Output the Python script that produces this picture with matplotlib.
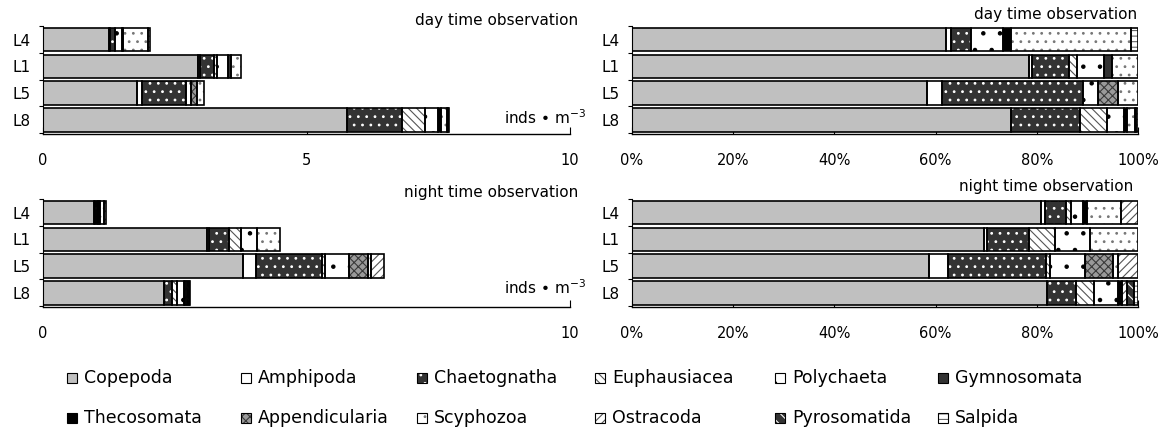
import numpy as np
import matplotlib
matplotlib.use("Agg")
import matplotlib.pyplot as plt
from matplotlib.patches import Rectangle

plt.rcParams['font.family'] = ['DejaVu Sans']
plt.rcParams['hatch.linewidth'] = 0.8

# ---------------- data ----------------
stations = ['L4', 'L1', 'L5', 'L8']
taxa = ['Copepoda', 'Amphipoda', 'Chaetognatha', 'Euphausiacea', 'Polychaeta',
        'Gymnosomata', 'Thecosomata', 'Appendicularia', 'Scyphozoa', 'Ostracoda',
        'Pyrosomatida', 'Salpida']

# abundance (inds m^-3), order of taxa as above
day_L4 = [1.26, 0.02, 0.08, 0.00, 0.13, 0.00, 0.03, 0.00, 0.48, 0.00, 0.00, 0.03]
day_L1 = [2.95, 0.02, 0.28, 0.06, 0.20, 0.06, 0.00, 0.00, 0.19, 0.00, 0.00, 0.00]
day_L5 = [1.78, 0.09, 0.85, 0.00, 0.09, 0.00, 0.00, 0.12, 0.12, 0.00, 0.00, 0.00]
day_L8 = [5.77, 0.00, 1.05, 0.42, 0.25, 0.00, 0.06, 0.00, 0.11, 0.00, 0.02, 0.03]

night_L4 = [0.97, 0.01, 0.05, 0.01, 0.03, 0.00, 0.01, 0.00, 0.08, 0.04, 0.00, 0.00]
night_L1 = [3.12, 0.03, 0.37, 0.23, 0.31, 0.00, 0.00, 0.00, 0.43, 0.00, 0.00, 0.00]
night_L5 = [3.80, 0.25, 1.25, 0.05, 0.45, 0.00, 0.00, 0.36, 0.07, 0.25, 0.00, 0.00]
night_L8 = [2.29, 0.00, 0.16, 0.10, 0.13, 0.00, 0.02, 0.00, 0.00, 0.03, 0.04, 0.02]

abs_ticks_day = [0, 5, 10]
abs_ticks_night = [0, 10]
pct_ticks = [0, 0.2, 0.4, 0.6, 0.8, 1.0]
pct_labels = ['0%', '20%', '40%', '60%', '80%', '100%']

# ---------------- styles ----------------
# (face, hatch, hatch colour)
styles = [
    ('#c0c0c0', None, 'none'),
    ('white', None, 'none'),
    ('#333333', '..', 'white'),
    ('white', '\\\\\\\\', '#555555'),
    ('white', '.', 'black'),
    ('#333333', None, 'none'),
    ('black', None, 'none'),
    ('#9a9a9a', 'xxxx', '#3a3a3a'),
    ('white', '..', '#777777'),
    ('white', '////', '#555555'),
    ('#333333', '\\\\\\', 'white'),
    ('white', '---', '#666666'),
]

W, H = 1171, 432
fig = plt.figure(figsize=(W / 100, H / 100), dpi=100)


def px_axes(x0, x1, ybot, height_px):
    return fig.add_axes([x0 / W, (H - ybot) / H, (x1 - x0) / W, height_px / H])


BAR_H = 0.88
ypos = np.arange(len(stations))[::-1]  # L4 top


def draw_panel(ax, rows, pct):
    data = np.array(rows, dtype=float)  # stations x taxa
    if pct:
        data = data / data.sum(axis=1, keepdims=True)
    left = np.zeros(len(stations))
    for j, (face, hatch, hc) in enumerate(styles):
        w = data[:, j]
        m = w > 0
        if m.any():
            ax.barh(ypos[m], w[m], left=left[m], height=BAR_H, color=face,
                    hatch=hatch, edgecolor=hc, linewidth=0, zorder=2)
            ax.barh(ypos[m], w[m], left=left[m], height=BAR_H, fill=False,
                    edgecolor='black', linewidth=1.2, zorder=3)
        left = left + w
    ax.set_ylim(-0.53, 3.5)
    ax.set_yticks(ypos)
    ax.set_yticklabels(stations, fontsize=11)
    ax.set_yticks([-0.5, 0.5, 1.5, 2.5, 3.5], minor=True)
    ax.tick_params(axis='y', which='major', length=0, pad=9)
    ax.tick_params(axis='y', which='minor', length=3, direction='out', width=0.8)
    ax.tick_params(axis='x', direction='in', length=5, width=0.8, pad=14, labelsize=10.5)
    for s in ['top', 'right']:
        ax.spines[s].set_visible(False)
    ax.spines['bottom'].set_linewidth(1.0)
    ax.spines['left'].set_linewidth(0.8)


day_rows = [day_L4, day_L1, day_L5, day_L8]
night_rows = [night_L4, night_L1, night_L5, night_L8]

LX0, LX1 = 43, 570
RX0, RX1 = 632, 1138
AH = 4.03 * 26.7

ax1 = px_axes(LX0, LX1, 134, AH)
draw_panel(ax1, day_rows, False)
ax1.set_xlim(0, 10)
ax1.set_xticks(abs_ticks_day)
ax1.set_xticklabels([str(t) for t in abs_ticks_day])

ax2 = px_axes(RX0, RX1, 134, AH)
draw_panel(ax2, day_rows, True)
ax2.set_xlim(0, 1)
ax2.set_xticks(pct_ticks)
ax2.set_xticklabels(pct_labels)

ax3 = px_axes(LX0, LX1, 307, AH)
draw_panel(ax3, night_rows, False)
ax3.set_xlim(0, 10)
ax3.set_xticks(abs_ticks_night)
ax3.set_xticklabels([str(t) for t in abs_ticks_night])

ax4 = px_axes(RX0, RX1, 307, AH)
draw_panel(ax4, night_rows, True)
ax4.set_xlim(0, 1)
ax4.set_xticks(pct_ticks)
ax4.set_xticklabels(pct_labels)

# titles and unit labels
fig.text(578 / W, 1 - 20 / H, 'day time observation', ha='right', va='center', fontsize=11)
fig.text(1137 / W, 1 - 14 / H, 'day time observation', ha='right', va='center', fontsize=11)
fig.text(578 / W, 1 - 192 / H, 'night time observation', ha='right', va='center', fontsize=11)
fig.text(1133 / W, 1 - 186 / H, 'night time observation', ha='right', va='center', fontsize=11)
unit = 'inds \u2022 m$^{-3}$'
fig.text(586 / W, 1 - 118 / H, unit, ha='right', va='center', fontsize=11)
fig.text(586 / W, 1 - 288 / H, unit, ha='right', va='center', fontsize=11)

# legend (two rows of six)
lax = fig.add_axes([0, 0, 1, 1])
lax.set_xlim(0, W)
lax.set_ylim(H, 0)
lax.axis('off')
col_x = [67, 241, 417, 595, 775, 938]
row_y = [378, 418]
for k, name in enumerate(taxa):
    face, hatch, hc = styles[k]
    r, c = divmod(k, 6)
    x, y = col_x[c], row_y[r]
    lax.add_patch(Rectangle((x, y - 5), 10, 10, facecolor=face, hatch=hatch,
                            edgecolor=hc, linewidth=0))
    lax.add_patch(Rectangle((x, y - 5), 10, 10, fill=False, edgecolor='black', linewidth=0.8))
    lax.text(x + 17, y, name, ha='left', va='center', fontsize=12.5)

fig.savefig('out.png', dpi=100)
